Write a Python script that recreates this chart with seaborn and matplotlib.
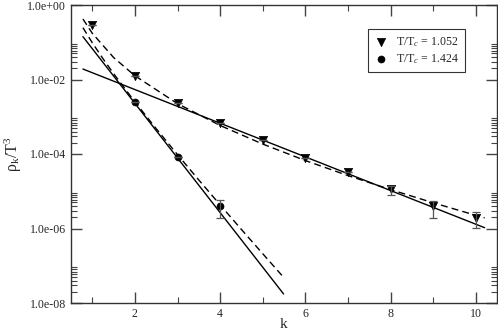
import numpy as np
import pandas as pd
import matplotlib
matplotlib.use("Agg")
import matplotlib.pyplot as plt
import matplotlib.ticker as mticker
import seaborn as sns

# puntos T/Tc = 1.052
k_hi = [1, 2, 3, 4, 5, 6, 7, 8, 9, 10]
rho_hi = [0.29, 0.0124, 2.3e-3, 6.8e-4, 2.4e-4, 7.9e-5, 3.35e-5, 1.12e-5, 3.9e-6, 1.95e-6]
rho_hi_lo = [0.29, 0.0124, 2.3e-3, 6.8e-4, 2.4e-4, 7.9e-5, 3.35e-5, 7.9e-6, 1.95e-6, 1.02e-6]
rho_hi_up = [0.29, 0.0124, 2.3e-3, 6.8e-4, 2.4e-4, 7.9e-5, 3.35e-5, 1.38e-5, 5.6e-6, 2.8e-6]

# puntos T/Tc = 1.424
k_lo = [2, 3, 4]
rho_lo = [2.5e-3, 8.3e-5, 3.9e-6]
rho_lo_lo = [2.5e-3, 8.3e-5, 1.95e-6]
rho_lo_up = [2.5e-3, 8.3e-5, 5.8e-6]

# ajustes (solido: exponencial, discontinuo: curva)
fit_hi_k = [0.78, 10.21]
fit_hi_rho = [0.0191, 1.05e-6]
fit_lo_k = [0.78, 5.49]
fit_lo_rho = [0.141, 1.75e-8]

dash_hi_k = [0.78, 1, 1.5, 2, 3, 4, 5, 6, 7, 8, 9, 10, 10.21]
dash_hi_rho = [0.42, 0.174, 0.0389, 0.0126, 2.25e-3, 5.83e-4, 1.85e-4, 6.68e-5,
               2.64e-5, 1.11e-5, 4.91e-6, 2.26e-6, 1.93e-6]
dash_lo_k = [0.78, 1, 1.25, 1.5, 2, 2.5, 3, 3.5, 4, 4.5, 5, 5.49]
dash_lo_rho = [0.246, 0.0968, 0.0363, 0.0144, 2.51e-3, 4.79e-4, 9.6e-5, 2.01e-5,
               4.31e-6, 9.44e-7, 2.11e-7, 4.9e-8]

labels = ["T/T$_c$ = 1.052", "T/T$_c$ = 1.424"]

sns.set_style("ticks")
plt.rcParams["font.family"] = ["Liberation Serif", "DejaVu Serif"]
plt.rcParams["mathtext.fontset"] = "custom"
plt.rcParams["mathtext.rm"] = "Liberation Serif"
plt.rcParams["mathtext.it"] = "Liberation Serif:italic"

fig = plt.figure(figsize=(4.98, 3.33), dpi=100)
ax = fig.add_axes([71 / 498, 30 / 333, 426 / 498, 298 / 333])

for kk, rr, dash in [(fit_hi_k, fit_hi_rho, None), (fit_lo_k, fit_lo_rho, None),
                     (dash_hi_k, dash_hi_rho, (5, 3)), (dash_lo_k, dash_lo_rho, (5, 3))]:
    l = sns.lineplot(x=kk, y=rr, ax=ax, color="black", lw=1.0,
                     sort=False, estimator=None).lines[-1]
    if dash:
        l.set_dashes(dash)

df_hi = pd.DataFrame({"k": k_hi, "rho": rho_hi, "lo": rho_hi_lo, "up": rho_hi_up})
df_lo = pd.DataFrame({"k": k_lo, "rho": rho_lo, "lo": rho_lo_lo, "up": rho_lo_up})

for df in (df_hi, df_lo):
    yerr = [df["rho"] - df["lo"], df["up"] - df["rho"]]
    ax.errorbar(df["k"], df["rho"], yerr=yerr, fmt="none", ecolor="#555555",
                elinewidth=0.9, capsize=3, capthick=0.9)

sns.scatterplot(data=df_hi, x="k", y="rho", ax=ax, marker="v", color="black",
                s=36, edgecolor="black", label=labels[0])
sns.scatterplot(data=df_lo, x="k", y="rho", ax=ax, marker="o", color="black",
                s=26, edgecolor="black", label=labels[1])

ax.set_yscale("log")
ax.set_xlim(0.5, 10.5)
ax.set_ylim(1e-8, 1)
ax.xaxis.set_major_locator(mticker.MultipleLocator(2))
ax.xaxis.set_minor_locator(mticker.MultipleLocator(1))
ax.yaxis.set_major_locator(mticker.FixedLocator([1, 1e-2, 1e-4, 1e-6, 1e-8]))
ax.yaxis.set_minor_locator(mticker.LogLocator(base=100, subs=np.arange(2, 10), numticks=20))
ax.yaxis.set_minor_formatter(mticker.NullFormatter())
ax.yaxis.set_major_formatter(mticker.FuncFormatter(lambda v, p: f"{v:.1e}"))

ax.tick_params(which="both", direction="in", top=True, right=True, labelsize=8.6,
               color="#444444")
ax.tick_params(which="major", length=8, width=1)
ax.tick_params(which="minor", length=4, width=0.8)
for s in ax.spines.values():
    s.set_linewidth(1.0)
    s.set_color("#333333")

ax.set_xlabel("k", fontsize=11, labelpad=-1)
ax.set_ylabel("ρ$_\\mathrm{k}$/T$^3$", fontsize=11.5, labelpad=2)

leg = ax.legend(loc="upper right", bbox_to_anchor=(0.938, 0.94), fontsize=8.6,
                frameon=True, fancybox=False, handletextpad=0.6, borderpad=0.5,
                labelspacing=0.3, handlelength=1.2)
leg.get_frame().set_edgecolor("black")
leg.get_frame().set_linewidth(0.8)

fig.savefig("out.png", dpi=100)
